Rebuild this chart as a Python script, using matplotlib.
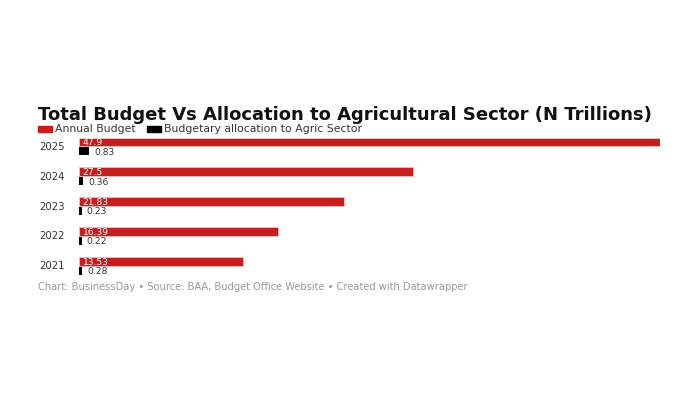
import matplotlib
matplotlib.use("Agg")
import matplotlib.pyplot as plt
from matplotlib.patches import Rectangle
from matplotlib.transforms import blended_transform_factory

years = ["2025", "2024", "2023", "2022", "2021"]
annual_budget = [47.9, 27.5, 21.83, 16.39, 13.53]
agric_alloc = [0.83, 0.36, 0.23, 0.22, 0.28]
budget_labels = ["47.9", "27.5", "21.83", "16.39", "13.53"]
agric_labels = ["0.83", "0.36", "0.23", "0.22", "0.28"]

red = "#c71e1d"
plt.rcParams["font.family"] = ["DejaVu Sans"]

fig = plt.figure(figsize=(7, 4), dpi=100)
ax = fig.add_axes([79 / 700, 1 - 281 / 400, 581 / 700, 149 / 400])

pos = list(range(len(years)))
red_y = [p - 0.165 for p in pos]
blk_y = [p + 0.15 for p in pos]
ax.barh(red_y, annual_budget, height=0.30, color=red, edgecolor="#f1c9c8", linewidth=0.5)
ax.barh(blk_y, agric_alloc, height=0.27, color="black")

for y, v, lab in zip(red_y, annual_budget, budget_labels):
    ax.text(0.3, y, lab, color="white", fontsize=6.6, va="center_baseline", ha="left")
for y, v, lab in zip(blk_y, agric_alloc, agric_labels):
    ax.text(v + 0.4, y, lab, color="#333333", fontsize=6.6, va="center_baseline", ha="left")

ax.set_xlim(0, 47.9)
ax.set_ylim(4.5, -0.5)
ax.set_xticks([])
ax.set_yticks([])
for s in ax.spines.values():
    s.set_visible(False)

trans = blended_transform_factory(fig.transFigure, ax.transData)
for p, yr in zip(pos, years):
    ax.text(39 / 700, p, yr, transform=trans, fontsize=7.3, color="#333333", va="center", ha="left")

fig.text(38 / 700, 1 - 115 / 400, "Total Budget Vs Allocation to Agricultural Sector (N Trillions)",
         fontsize=13, fontweight="heavy", va="center", ha="left", color="#111111")

fig.patches.append(Rectangle((38 / 700, 1 - 132 / 400), 14 / 700, 6 / 400, transform=fig.transFigure,
                             color=red, figure=fig))
fig.text(55 / 700, 1 - 129 / 400, "Annual Budget", fontsize=7.8, va="center", ha="left", color="#333333")
fig.patches.append(Rectangle((147 / 700, 1 - 132 / 400), 14 / 700, 6 / 400, transform=fig.transFigure,
                             color="black", figure=fig))
fig.text(164 / 700, 1 - 129 / 400, "Budgetary allocation to Agric Sector", fontsize=7.8, va="center",
         ha="left", color="#333333")

fig.text(38 / 700, 1 - 287 / 400,
         "Chart: BusinessDay \u2022 Source: BAA, Budget Office Website \u2022 Created with Datawrapper",
         fontsize=7.1, va="center", ha="left", color="#999999")

fig.savefig("out.png", dpi=100, facecolor="white")
